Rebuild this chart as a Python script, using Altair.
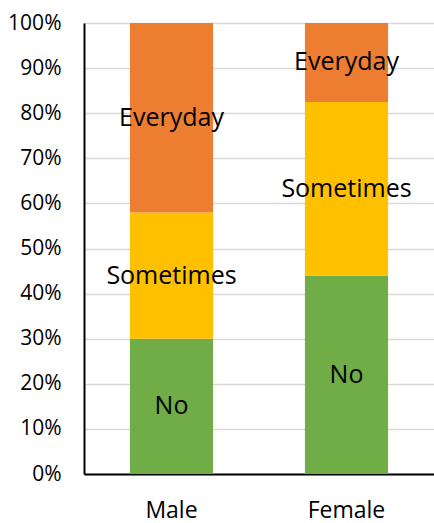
import altair as alt
import pandas as pd

# Share of respondents per gender and answer
genders = ["Male", "Female"]
answers = ["No", "Sometimes", "Everyday"]
male_share = [0.30, 0.28, 0.42]
female_share = [0.44, 0.385, 0.175]
answer_colors = ["#70AD47", "#FFC000", "#ED7D31"]

rows = []
for g, shares in zip(genders, [male_share, female_share]):
    for i, (a, v) in enumerate(zip(answers, shares)):
        rows.append({"gender": g, "answer": a, "share": v, "rank": i})
df = pd.DataFrame(rows)

FONT = "Open Sans"

base = (
    alt.Chart(df)
    .transform_stack(
        stack="share",
        groupby=["gender"],
        as_=["y0", "y1"],
        sort=[alt.SortField("rank", order="ascending")],
    )
    .transform_calculate(mid="(datum.y0 + datum.y1) / 2")
)

x_enc = alt.X(
    "gender:N",
    sort=genders,
    title=None,
    scale=alt.Scale(paddingInner=0.525, paddingOuter=0.2625),
    axis=alt.Axis(
        labelAngle=0,
        labelFontSize=23,
        labelFont=FONT,
        labelColor="#000000",
        labelPadding=25,
        ticks=False,
        domainColor="#000000",
        domainWidth=2,
        grid=False,
    ),
)

bars = base.mark_bar().encode(
    x=x_enc,
    y=alt.Y(
        "y0:Q",
        title=None,
        scale=alt.Scale(domain=[0, 1], nice=False),
        axis=alt.Axis(
            format=".0%",
            values=[i / 10 for i in range(11)],
            labelFontSize=21,
            labelFont=FONT,
            labelColor="#000000",
            labelPadding=23,
            ticks=False,
            domainColor="#000000",
            domainWidth=2,
            gridColor="#D9D9D9",
            gridWidth=1.5,
        ),
    ),
    y2="y1:Q",
    color=alt.Color(
        "answer:N",
        scale=alt.Scale(domain=answers, range=answer_colors),
        legend=None,
    ),
)

labels = base.mark_text(
    font=FONT, fontSize=25, color="#000000", baseline="middle", align="center"
).encode(
    x=alt.X("gender:N", sort=genders),
    y=alt.Y("mid:Q"),
    text="answer:N",
)

chart = (
    alt.layer(bars, labels)
    .properties(
        width=350,
        height=451,
        padding={"left": 84, "top": 23, "right": 0, "bottom": 49},
        autosize=alt.AutoSizeParams(type="none"),
    )
    .configure_view(stroke=None)
)

chart.save("out.html", embed_options={"renderer": "svg", "actions": False})
